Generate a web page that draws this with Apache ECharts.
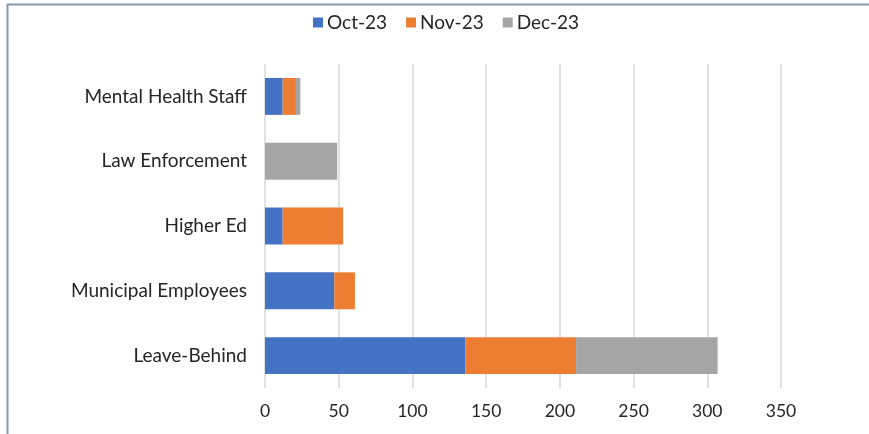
<!DOCTYPE html>
<html>
<head>
<meta charset="utf-8">
<script src="https://cdn.jsdelivr.net/npm/echarts@6/dist/echarts.min.js"></script>
<style>html,body{margin:0;padding:0;background:#fff;}#c{width:869px;height:434px;}</style>
</head>
<body>
<div id="c"></div>
<script>
var categories = ["Leave-Behind", "Municipal Employees", "Higher Ed", "Law Enforcement", "Mental Health Staff"];
var seriesNames = ["Oct-23", "Nov-23", "Dec-23"];
var oct23 = [136, 47, 12, 0, 12];
var nov23 = [75, 14, 41, 0, 9];
var dec23 = [96, 0, 0, 49, 3];
var xTicks = [0, 50, 100, 150, 200, 250, 300, 350];

var colors = ["#4472c4", "#ed7d31", "#a5a5a5"];
var font = "Lato, 'Open Sans', sans-serif";
var chart = echarts.init(document.getElementById('c'), null, {renderer: 'canvas'});
var data = [oct23, nov23, dec23];
chart.setOption({
  animation: false,
  color: colors,
  legend: {
    data: seriesNames,
    top: 8,
    left: 308,
    itemWidth: 10, itemHeight: 10, itemGap: 19,
    icon: 'rect',
    textStyle: {fontFamily: font, fontSize: 19, color: '#262626', padding: [0,0,0,-1]}
  },
  grid: {left: 265, right: 88, top: 64, bottom: 46, containLabel: false},
  xAxis: {
    type: 'value', min: xTicks[0], max: xTicks[xTicks.length-1], interval: 50,
    axisLine: {show: false}, axisTick: {show: false},
    splitLine: {show: true, lineStyle: {color: '#d9d9d9', width: 1.5}},
    axisLabel: {fontFamily: font, fontSize: 17.5, color: '#262626', margin: 14}
  },
  yAxis: {
    type: 'category', data: categories,
    axisLine: {show: false}, axisTick: {show: false},
    axisLabel: {fontFamily: font, fontSize: 19, color: '#262626', margin: 18}
  },
  graphic: [
    {type: 'line', shape: {x1: 7, y1: 4.5, x2: 869, y2: 4.5}, style: {stroke: '#8497b0', lineWidth: 2}},
    {type: 'line', shape: {x1: 7.5, y1: 4, x2: 7.5, y2: 434}, style: {stroke: '#8497b0', lineWidth: 2}}
  ],
  series: seriesNames.map(function(n, i){
    return {
      name: n, type: 'bar', stack: 'total', barCategoryGap: '43%',
      data: data[i].map(function(v){ return v === 0 ? null : v; })
    };
  })
});
</script>
</body>
</html>
